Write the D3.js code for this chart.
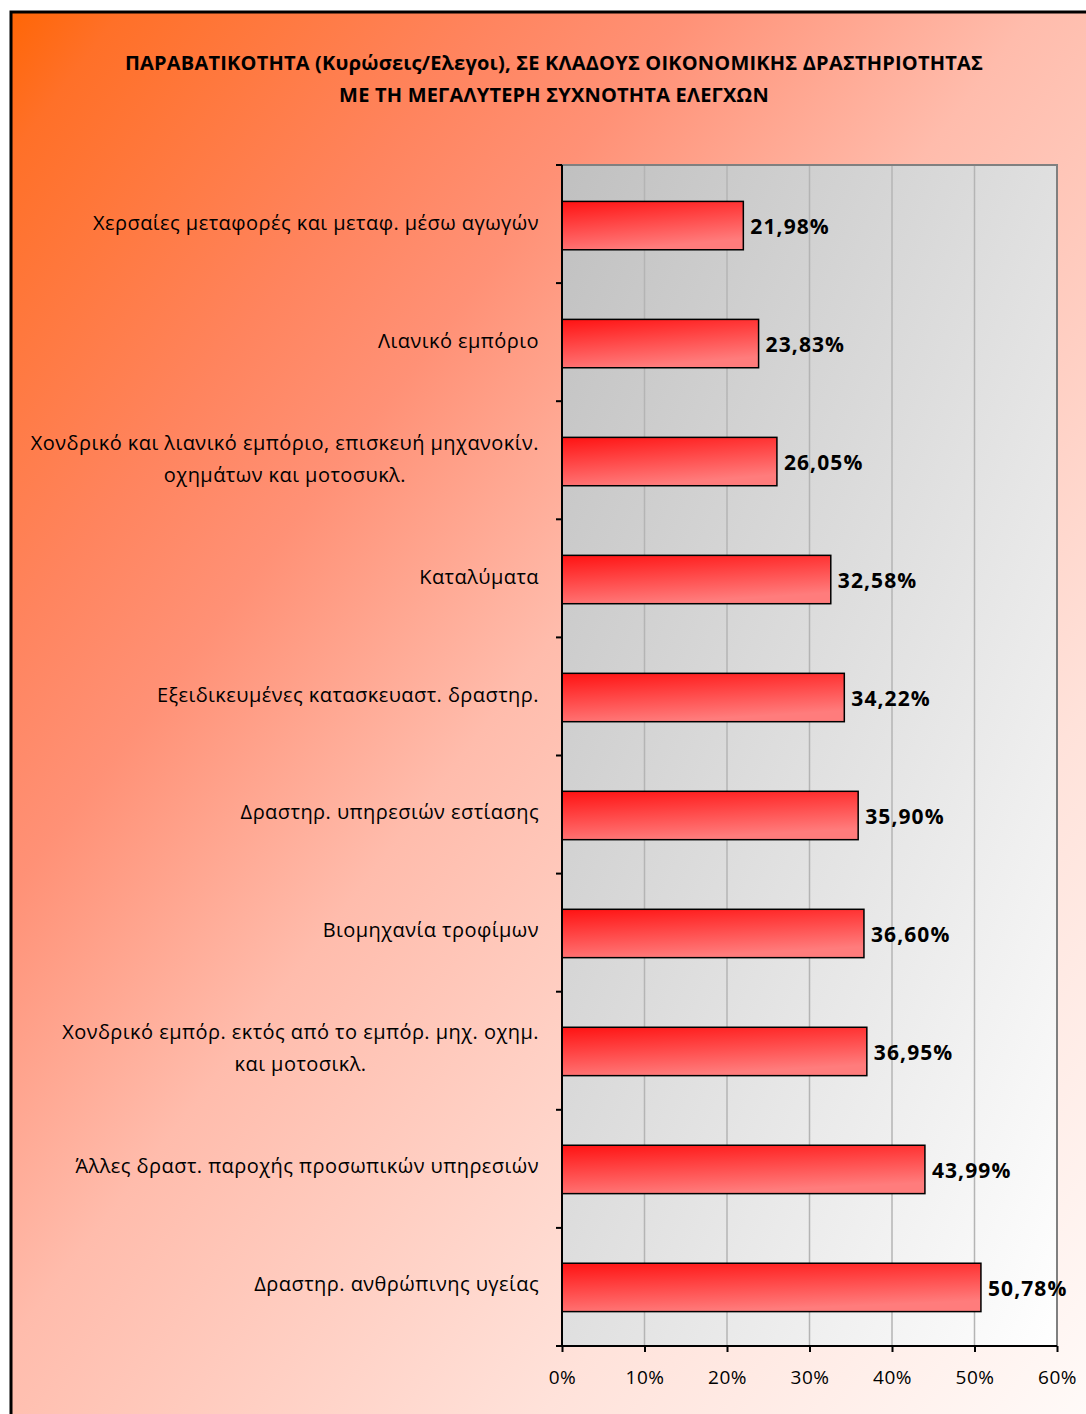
<!DOCTYPE html>
<html>
<head>
<meta charset="utf-8">
<script src="https://cdn.jsdelivr.net/npm/d3@7"></script>
<style>
  html, body { margin: 0; padding: 0; background: #ffffff; }
  svg { display: block; }
</style>
</head>
<body>
<script>
const titleLines = [
  "ΠΑΡΑΒΑΤΙΚΟΤΗΤΑ (Κυρώσεις/Ελεγοι), ΣΕ ΚΛΑΔΟΥΣ ΟΙΚΟΝΟΜΙΚΗΣ ΔΡΑΣΤΗΡΙΟΤΗΤΑΣ",
  "ΜΕ ΤΗ ΜΕΓΑΛΥΤΕΡΗ ΣΥΧΝΟΤΗΤΑ ΕΛΕΓΧΩΝ"
];
const categories = [
  ["Χερσαίες μεταφορές και μεταφ. μέσω αγωγών"],
  ["Λιανικό εμπόριο"],
  ["Χονδρικό και λιανικό εμπόριο, επισκευή μηχανοκίν.", "οχημάτων και μοτοσυκλ."],
  ["Καταλύματα"],
  ["Εξειδικευμένες κατασκευαστ. δραστηρ."],
  ["Δραστηρ. υπηρεσιών εστίασης"],
  ["Βιομηχανία τροφίμων"],
  ["Χονδρικό εμπόρ. εκτός από το εμπόρ. μηχ. οχημ.", "και  μοτοσικλ."],
  ["Άλλες δραστ. παροχής προσωπικών υπηρεσιών"],
  ["Δραστηρ. ανθρώπινης υγείας"]
];
const values = [21.98, 23.83, 26.05, 32.58, 34.22, 35.90, 36.60, 36.95, 43.99, 50.78];
const xTicks = [0, 10, 20, 30, 40, 50, 60];

(function () {
const W = 1086, H = 1414;
const font = "'Open Sans', 'Noto Sans', sans-serif";
const svg = d3.select("body").append("svg").attr("width", W).attr("height", H);
const defs = svg.append("defs");

const bgGrad = defs.append("linearGradient").attr("id", "bgGrad")
  .attr("gradientUnits", "userSpaceOnUse")
  .attr("x1", 0).attr("y1", 0).attr("x2", 1366).attr("y2", 1051);
[[0, "#ff6400"], [0.06, "#ff7028"], [0.23, "#ff845e"], [0.32, "#ff9176"],
 [0.48, "#ffbcac"], [0.75, "#ffe2da"], [1, "#fffaf8"]].forEach(s =>
  bgGrad.append("stop").attr("offset", s[0]).attr("stop-color", s[1]));

const plotGrad = defs.append("linearGradient").attr("id", "plotGrad")
  .attr("x1", 0).attr("y1", 0).attr("x2", 1).attr("y2", 1);
plotGrad.append("stop").attr("offset", 0).attr("stop-color", "#c0c0c0");
plotGrad.append("stop").attr("offset", 1).attr("stop-color", "#ffffff");

const barGrad = defs.append("linearGradient").attr("id", "barGrad")
  .attr("x1", 0).attr("y1", 0).attr("x2", 0.35).attr("y2", 1);
barGrad.append("stop").attr("offset", 0).attr("stop-color", "#ff1212");
barGrad.append("stop").attr("offset", 1).attr("stop-color", "#ff7c7c");

svg.append("rect").attr("x", 11).attr("y", 12).attr("width", 1100).attr("height", 1420)
  .attr("fill", "url(#bgGrad)").attr("stroke", "#000").attr("stroke-width", 3);

svg.append("g").selectAll("text").data(titleLines).join("text")
  .attr("x", 554).attr("y", (d, i) => 70 + i * 32)
  .attr("text-anchor", "middle")
  .attr("font-family", font).attr("font-weight", "bold").attr("font-size", 20)
  .attr("letter-spacing", 0.2)
  .attr("fill", "#000").text(d => d);

const pLeft = 562, pRight = 1057, pTop = 165, pBottom = 1346;
const x = d3.scaleLinear().domain([0, 60]).range([pLeft, pRight]);
const y = d3.scaleBand().domain(d3.range(categories.length)).range([pTop + 1, pBottom + 1]).paddingInner(0.59).paddingOuter(0.3);

svg.append("rect").attr("x", pLeft).attr("y", pTop).attr("width", pRight - pLeft).attr("height", pBottom - pTop)
  .attr("fill", "url(#plotGrad)");

svg.append("g").selectAll("line").data(xTicks.slice(1, -1)).join("line")
  .attr("x1", d => x(d)).attr("x2", d => x(d)).attr("y1", pTop).attr("y2", pBottom)
  .attr("stroke", "#b4b4b4").attr("stroke-width", 1.5);

svg.append("path")
  .attr("d", `M${pLeft},${pTop}H${pRight}V${pBottom}`)
  .attr("fill", "none").attr("stroke", "#808080").attr("stroke-width", 2);

svg.append("g").selectAll("rect").data(values).join("rect")
  .attr("x", x(0)).attr("y", (d, i) => y(i))
  .attr("width", d => x(d) - x(0)).attr("height", y.bandwidth())
  .attr("fill", "url(#barGrad)").attr("stroke", "#000").attr("stroke-width", 1.5);

svg.append("g").selectAll("text").data(values).join("text")
  .attr("x", d => x(d) + 7).attr("y", (d, i) => y(i) + y.bandwidth() / 2 + 1)
  .attr("dy", "0.35em")
  .attr("font-family", font).attr("font-weight", "bold").attr("font-size", 21)
  .attr("letter-spacing", 1.1)
  .attr("fill", "#000")
  .text(d => d.toFixed(2).replace(".", ",") + "%");

const xAxis = d3.axisBottom(x).tickValues(xTicks).tickFormat(d => d + "%").tickSize(6).tickSizeOuter(0);
const gx = svg.append("g").attr("transform", `translate(0,${pBottom})`).call(xAxis);
gx.select(".domain").attr("stroke", "#000").attr("stroke-width", 2).attr("d", `M${pLeft - 6},0H${pRight}`);
gx.selectAll(".tick line").attr("stroke", "#000").attr("stroke-width", 2);
gx.selectAll(".tick text").attr("font-family", font).attr("font-size", 19)
  .attr("letter-spacing", 0.5).attr("fill", "#000").attr("dy", "1.5em");

const yBounds = d3.range(categories.length + 1).map(i => pTop + i * (pBottom - pTop) / categories.length);
svg.append("line").attr("x1", pLeft).attr("x2", pLeft).attr("y1", pTop).attr("y2", pBottom)
  .attr("stroke", "#000").attr("stroke-width", 2);
svg.append("g").selectAll("line").data(yBounds).join("line")
  .attr("x1", pLeft - 6).attr("x2", pLeft).attr("y1", d => d).attr("y2", d => d)
  .attr("stroke", "#000").attr("stroke-width", 2);

const labelG = svg.append("g");
categories.forEach((lines, i) => {
  const cy = y(i) + y.bandwidth() / 2 - 3;
  const lh = 32;
  const n = lines.length;
  const texts = lines.map((line, j) => labelG.append("text")
    .attr("y", cy + (j - (n - 1) / 2) * lh)
    .attr("dy", "0.35em")
    .attr("font-family", font).attr("font-size", 20).attr("letter-spacing", 0.45)
    .attr("fill", "#000")
    .text(line));
  const widths = texts.map(t => t.node().getComputedTextLength());
  const maxW = d3.max(widths);
  const cx = 539 - maxW / 2;
  texts.forEach(t => t.attr("x", cx).attr("text-anchor", "middle"));
});
})();
</script>
</body>
</html>
